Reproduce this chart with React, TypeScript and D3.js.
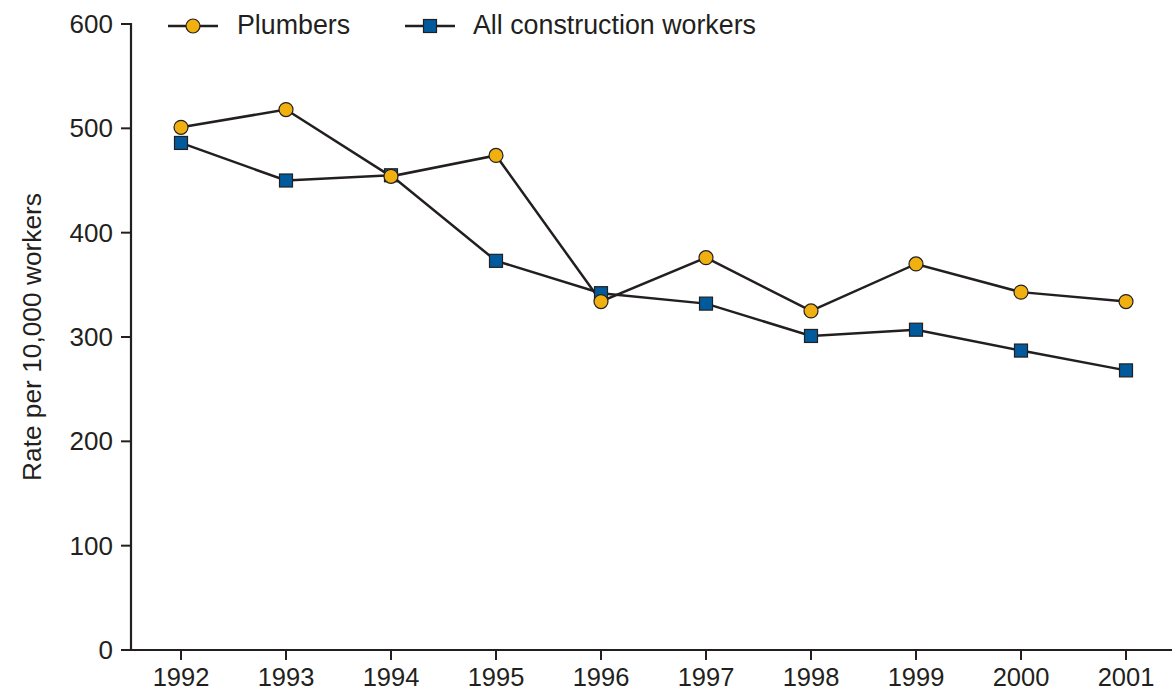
import React from "react";
import * as d3 from "d3";

const years = [1992, 1993, 1994, 1995, 1996, 1997, 1998, 1999, 2000, 2001];
const plumbers = [501, 518, 454, 474, 334, 376, 325, 370, 343, 334];
const allConstruction = [486, 450, 455, 373, 342, 332, 301, 307, 287, 268];
const yTicks = [0, 100, 200, 300, 400, 500, 600];

const W = 1176;
const H = 691;
const left = 131;
const right = 1172;
const top = 24;
const bottom = 650;
const lineColor = "#231f20";
const gold = "#f0b110";
const blue = "#005a9c";
const font = "'Liberation Sans', Arial, Helvetica, sans-serif";

export default function App() {
  const x = d3.scaleLinear().domain([1992, 2001]).range([181, 1126]);
  const y = d3.scaleLinear().domain([0, 600]).range([bottom, top]);
  const line = d3
    .line<number>()
    .x((_, i) => x(years[i]))
    .y((d) => y(d));

  return (
    <svg
      width={W}
      height={H}
      style={{ position: "absolute", left: 0, top: 0, background: "#fff" }}
      fontFamily={font}
    >
      {/* axes */}
      <line x1={left} x2={left} y1={top - 1} y2={bottom + 1} stroke={lineColor} strokeWidth={2.2} />
      <line x1={left - 1} x2={right} y1={bottom} y2={bottom} stroke={lineColor} strokeWidth={2.2} />
      {yTicks.map((t) => (
        <g key={t}>
          <line x1={left - 10} x2={left} y1={y(t)} y2={y(t)} stroke={lineColor} strokeWidth={2} />
          <text
            x={left - 18}
            y={y(t)}
            dy="0.35em"
            textAnchor="end"
            fontSize={26}
            fill={lineColor}
          >
            {t}
          </text>
        </g>
      ))}
      {years.map((yr) => (
        <g key={yr}>
          <line x1={x(yr)} x2={x(yr)} y1={bottom} y2={bottom + 10} stroke={lineColor} strokeWidth={2} />
          <text x={x(yr)} y={bottom + 36} textAnchor="middle" fontSize={25.5} fill={lineColor}>
            {yr}
          </text>
        </g>
      ))}
      <text
        transform={`translate(41, ${(top + bottom) / 2}) rotate(-90)`}
        textAnchor="middle"
        fontSize={26.3}
        fill={lineColor}
      >
        Rate per 10,000 workers
      </text>

      {/* series lines */}
      <path d={line(allConstruction) || ""} fill="none" stroke={lineColor} strokeWidth={2.5} />
      <path d={line(plumbers) || ""} fill="none" stroke={lineColor} strokeWidth={2.5} />

      {/* markers */}
      {allConstruction.map((v, i) => (
        <rect
          key={"s" + i}
          x={x(years[i]) - 6.5}
          y={y(v) - 6.5}
          width={13}
          height={13}
          fill={blue}
          stroke={lineColor}
          strokeWidth={1.2}
        />
      ))}
      {plumbers.map((v, i) => (
        <circle
          key={"c" + i}
          cx={x(years[i])}
          cy={y(v)}
          r={7}
          fill={gold}
          stroke={lineColor}
          strokeWidth={1.2}
        />
      ))}

      {/* legend */}
      <g>
        <line x1={168} x2={218} y1={26} y2={26} stroke={lineColor} strokeWidth={2.5} />
        <circle cx={193} cy={26} r={7} fill={gold} stroke={lineColor} strokeWidth={1.2} />
        <text x={237} y={34} fontSize={26.8} fill={lineColor}>
          Plumbers
        </text>
        <line x1={405} x2={455} y1={26} y2={26} stroke={lineColor} strokeWidth={2.5} />
        <rect x={423.5} y={19.5} width={13} height={13} fill={blue} stroke={lineColor} strokeWidth={1.2} />
        <text x={473} y={34} fontSize={26.8} fill={lineColor}>
          All construction workers
        </text>
      </g>
    </svg>
  );
}
